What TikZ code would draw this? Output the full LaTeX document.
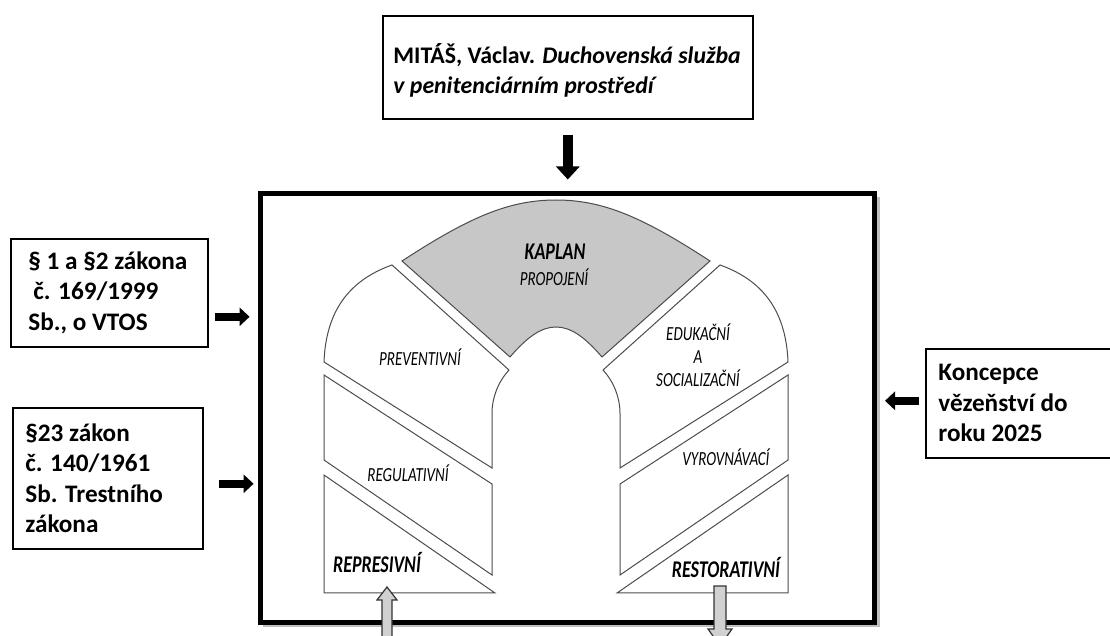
\documentclass[tikz,border=0pt]{standalone}
\usepackage{fontspec}
\setmainfont{Carlito}
\newfontfamily\narrowfont[FakeStretch=0.75]{Carlito}
\usetikzlibrary{arrows.meta}

\begin{document}
\begin{tikzpicture}[x=0.5pt, y=-0.5pt,
  srcbox/.style = {draw, line width=0.8pt, inner sep=0pt, anchor=north west},
  srctext/.style = {align=left, inner sep=0pt, anchor=west,
    font=\fontsize{12.6}{15.2}\selectfont\bfseries},
  bigarrow/.style = {line width=5pt, -{Triangle[length=6.5pt,width=11.5pt]}},
  smallarrow/.style = {line width=4pt, -{Triangle[length=5pt,width=9pt]}},
  part/.style = {draw=black!70, line width=0.5pt, fill=white},
  tag/.style = {align=center, inner sep=0pt,
    font=\narrowfont\itshape\fontsize{10}{11.5}\selectfont},
  bigtag/.style = {inner sep=0pt,
    font=\narrowfont\bfseries\itshape\fontsize{12}{13}\selectfont},
  outarrow/.style = {draw=black!80, line width=0.6pt, fill=black!18}]

\useasboundingbox (0,0) rectangle (1110,636);
\clip (0,0) rectangle (1110,636);

% source boxes
\node[srcbox, minimum width=185pt, minimum height=51.5pt] (mitas) at (382,15) {};
\node[srctext, font=\fontsize{11.9}{15}\selectfont\bfseries] (mitastxt)
  at ([xshift=5.5pt,yshift=-1.5pt]mitas.west)
  {MITÁŠ, Václav. \textit{Duchovenská služba}\\ \textit{v penitenciárním prostředí}};

\node[srcbox, minimum width=98.5pt, minimum height=54pt] (lawA) at (10,238) {};
\node[srctext] (lawAtxt) at ([xshift=9pt]lawA.west)
  {§ 1 a §2 zákona\\ \hspace*{2.5pt}č. 169/1999\\ Sb., o VTOS};

\node[srcbox, minimum width=95pt, minimum height=70.5pt] (lawB) at (12,407) {};
\node[srctext] (lawBtxt) at ([xshift=6.5pt]lawB.west)
  {§23 zákon\\ č. 140/1961\\ Sb. Trestního\\ zákona};

\node[srcbox, minimum width=95pt, minimum height=54.5pt] (plan) at (925,348) {};
\node[srctext] (plantxt) at ([xshift=6.5pt]plan.west)
  {Koncepce\\ vězeňství do\\ roku 2025};

% frame with shadow
\draw[black!25, line width=3pt] (877,197) -- (877,624) -- (263,624);
\node[draw, line width=2.5pt, inner sep=0pt, anchor=north west,
  minimum width=307pt, minimum height=214pt] (frame) at (258,191.5) {};

\draw[bigarrow] ([yshift=-7.5pt]mitas.south) -- ([yshift=6pt]mitas.south |- frame.north);
\draw[smallarrow] ([xshift=3pt,yshift=-12pt]lawA.east) -- ++(35,0);
\draw[smallarrow] ([xshift=7.5pt,yshift=-2.75pt]lawB.east) -- ++(35,0);
\draw[smallarrow] ([xshift=-3pt,yshift=1.25pt]plan.west) -- ++(-34,0);

% arch
\fill[black!22, draw=black!70, line width=0.5pt] (402,261)
  .. controls (468,218) and (508,200) .. (556,200)
  .. controls (604,200) and (644,218) .. (710,261)
  -- (602,357) .. controls (584,336) and (570,327) .. (556,327)
  .. controls (542,327) and (528,336) .. (510,357) -- cycle;
\foreach \side in {1,-1}{
  \begin{scope}[shift={(556,0)}, xscale=\side]
    \draw[part] (-164,265) .. controls (-206,280) and (-230,310) .. (-232,362)
      -- (-64,468) -- (-64,413) .. controls (-64,398) and (-58,382) .. (-47,370) -- cycle;
    \draw[part] (-232,375) -- (-64,484) -- (-64,575) -- (-232,460) -- cycle;
    \draw[part] (-232,475) -- (-61,593) -- (-232,593) -- cycle;
  \end{scope}
}

% labels
\node[bigtag] (kaplan) at (555,252) {KAPLAN};
\node[tag] (propojeni) at (554,277) {PROPOJENÍ};
\node[tag] (preventivni) at (420,357) {PREVENTIVNÍ};
\node[tag] (regulativni) at (408,473) {REGULATIVNÍ};
\node[bigtag] (represivni) at (377,563) {REPRESIVNÍ};
\node[tag] (edukacni) at (698,355) {EDUKAČNÍ\\A\\SOCIALIZAČNÍ};
\node[tag] (vyrovnavaci) at (726,457) {VYROVNÁVACÍ};
\node[bigtag] (restorativni) at (726,568) {RESTORATIVNÍ};

% outgoing block arrows
\draw[outarrow] (387,587) -- (397,600) -- (392,600) -- (392,650)
  -- (382,650) -- (382,600) -- (377,600) -- cycle;
\draw[outarrow] (714,586) -- (726,586) -- (726,629) -- (732,629)
  -- (720,646) -- (708,629) -- (714,629) -- cycle;
\end{tikzpicture}
\end{document}
